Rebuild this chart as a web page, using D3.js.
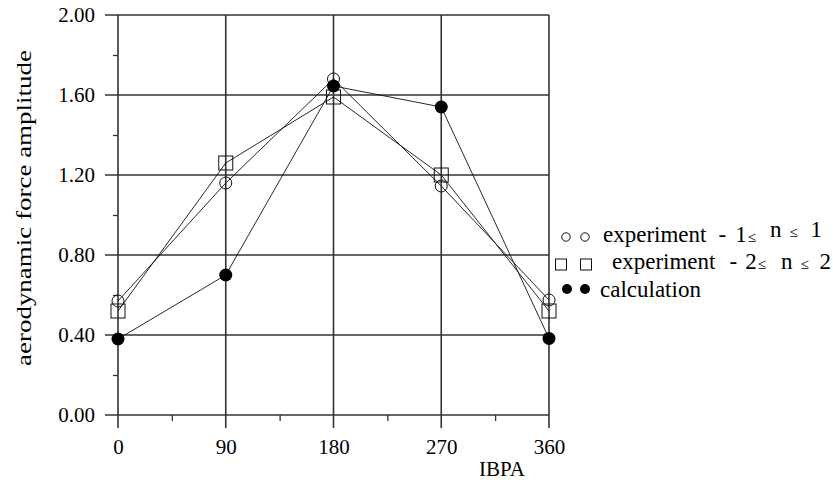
<!DOCTYPE html>
<html>
<head>
<meta charset="utf-8">
<script src="https://cdn.jsdelivr.net/npm/d3@7"></script>
<style>
  body { margin: 0; background: #fff; }
  svg text { font-family: "Liberation Serif", "DejaVu Serif", serif; fill: #000; }
</style>
</head>
<body>
<div id="chart"></div>
<script>
// IBPA values (deg)
const ibpa = [0, 90, 180, 270, 360];
// amplitudes
const exp1 = [0.57, 1.16, 1.68, 1.145, 0.575];
const exp2 = [0.52, 1.26, 1.59, 1.20, 0.52];
const calc = [0.38, 0.70, 1.645, 1.54, 0.383];

const yMajor = [0, 0.4, 0.8, 1.2, 1.6, 2.0];
const yMinor = [0.2, 0.6, 1.0, 1.4, 1.8];
const xMajor = [0, 90, 180, 270, 360];
const xMinor = [45, 135, 225, 315];

const width = 833, height = 487;
const serif = "Liberation Serif";

const svg = d3.select("#chart")
  .append("svg")
  .attr("width", width)
  .attr("height", height)
  .attr("font-family", serif);

const x = d3.scaleLinear().domain([0, 360]).range([118, 549]);
const y = d3.scaleLinear().domain([0, 2]).range([415, 15]);

const gridColor = "#333";

// horizontal grid lines (they stick out left as the major ticks)
svg.append("g")
  .selectAll("line")
  .data(yMajor)
  .join("line")
    .attr("x1", x(0) - 13)
    .attr("x2", x(360))
    .attr("y1", d => y(d))
    .attr("y2", d => y(d))
    .attr("stroke", gridColor)
    .attr("stroke-width", 1.6);

// vertical grid lines, running down past the axis as ticks
svg.append("g")
  .selectAll("line")
  .data(xMajor)
  .join("line")
    .attr("x1", d => x(d))
    .attr("x2", d => x(d))
    .attr("y1", y(2))
    .attr("y2", y(0) + 13)
    .attr("stroke", gridColor)
    .attr("stroke-width", 1.6);

// y axis labels
const yAxis = svg.append("g")
  .attr("transform", `translate(${x(0)},0)`)
  .call(d3.axisLeft(y).tickValues(yMajor).tickSize(13).tickPadding(10).tickFormat(d3.format(".2f")))
  .attr("font-family", null)
  .attr("font-size", null);
yAxis.select(".domain").remove();
yAxis.selectAll(".tick line").remove();
yAxis.selectAll("text").style("font-size", "21px").style("font-family", serif);

// y minor ticks
svg.append("g")
  .attr("transform", `translate(${x(0)},0)`)
  .call(d3.axisLeft(y).tickValues(yMinor).tickSize(5).tickFormat(""))
  .call(g => g.select(".domain").remove())
  .selectAll("line").attr("stroke", gridColor).attr("stroke-width", 1.3);

// x axis labels
const xAxis = svg.append("g")
  .attr("transform", `translate(0,${y(0)})`)
  .call(d3.axisBottom(x).tickValues(xMajor).tickSize(13).tickPadding(11))
  .attr("font-family", null)
  .attr("font-size", null);
xAxis.select(".domain").remove();
xAxis.selectAll(".tick line").remove();
xAxis.selectAll("text").style("font-size", "21px").style("font-family", serif);

// x minor ticks
svg.append("g")
  .attr("transform", `translate(0,${y(0)})`)
  .call(d3.axisBottom(x).tickValues(xMinor).tickSize(6).tickFormat(""))
  .call(g => g.select(".domain").remove())
  .selectAll("line").attr("stroke", gridColor).attr("stroke-width", 1.3);

// axis titles
svg.append("text")
  .attr("x", 502)
  .attr("y", 476)
  .attr("text-anchor", "middle")
  .style("font-size", "21px")
  .style("font-family", serif)
  .text("IBPA");

svg.append("text")
  .attr("transform", "translate(31,208) rotate(-90)")
  .attr("text-anchor", "middle")
  .style("font-size", "21px")
  .style("font-family", serif)
  .attr("textLength", 316)
  .attr("lengthAdjust", "spacingAndGlyphs")
  .text("aerodynamic  force amplitude");

// series lines
const line = d3.line().x((d, i) => x(ibpa[i])).y(d => y(d));
[exp1, exp2, calc].forEach(s => {
  svg.append("path")
    .datum(s)
    .attr("d", line)
    .attr("fill", "none")
    .attr("stroke", "#111")
    .attr("stroke-width", 0.9);
});

// markers
svg.append("g")
  .selectAll("circle")
  .data(exp1)
  .join("circle")
    .attr("cx", (d, i) => x(ibpa[i]))
    .attr("cy", d => y(d))
    .attr("r", 6)
    .attr("fill", "none")
    .attr("stroke", "#111")
    .attr("stroke-width", 1);

svg.append("g")
  .selectAll("rect")
  .data(exp2)
  .join("rect")
    .attr("x", (d, i) => x(ibpa[i]) - 7)
    .attr("y", d => y(d) - 7)
    .attr("width", 14)
    .attr("height", 14)
    .attr("fill", "none")
    .attr("stroke", "#111")
    .attr("stroke-width", 1);

svg.append("g")
  .selectAll("circle")
  .data(calc)
  .join("circle")
    .attr("cx", (d, i) => x(ibpa[i]))
    .attr("cy", d => y(d))
    .attr("r", 6.5)
    .attr("fill", "#000");

// legend
const legend = svg.append("g");

legend.selectAll("circle.l1")
  .data([566, 585])
  .join("circle")
    .attr("class", "l1")
    .attr("cx", d => d)
    .attr("cy", 237)
    .attr("r", 4.2)
    .attr("fill", "none")
    .attr("stroke", "#111");

legend.selectAll("rect.l2")
  .data([561, 586])
  .join("rect")
    .attr("class", "l2")
    .attr("x", d => d - 5.5)
    .attr("y", 259)
    .attr("width", 11)
    .attr("height", 11)
    .attr("fill", "none")
    .attr("stroke", "#111");

legend.selectAll("circle.l3")
  .data([567, 585])
  .join("circle")
    .attr("class", "l3")
    .attr("cx", d => d)
    .attr("cy", 289)
    .attr("r", 5)
    .attr("fill", "#000");

// legend labels, pieces spaced like the scanned original
function legendLabel(x0, y0, pieces) {
  const t = legend.append("text")
    .attr("x", x0)
    .attr("y", y0)
    .style("font-size", "23px")
    .style("font-family", serif);
  pieces.forEach(p => {
    const s = t.append("tspan").attr("dx", p.dx || 0).text(p.t);
    if (p.dy) s.attr("dy", p.dy);
    if (p.small) s.style("font-size", "15px");
  });
}

legendLabel(603, 242, [
  {t: "experiment"}, {t: "-", dx: 12}, {t: "1", dx: 9}, {t: "≤", dx: 1, small: true},
  {t: "n", dx: 14, dy: -5}, {t: "≤", dx: 8, small: true}, {t: "1", dx: 13}
]);
legendLabel(612, 269, [
  {t: "experiment"}, {t: "-", dx: 14}, {t: "2", dx: 8}, {t: "≤", dx: 1, small: true},
  {t: "n", dx: 15}, {t: "≤", dx: 8, small: true}, {t: "2", dx: 11}
]);
legendLabel(600, 297, [{t: "calculation"}]);
</script>
</body>
</html>
